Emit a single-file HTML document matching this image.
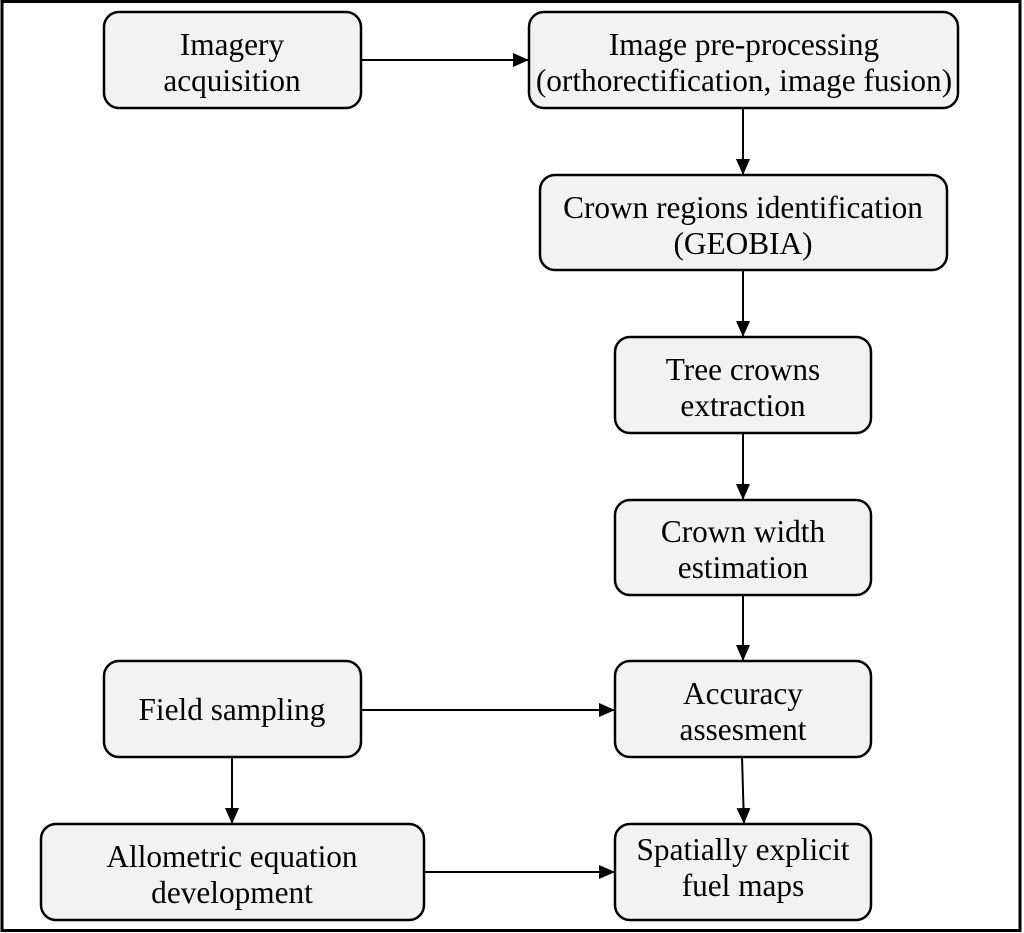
<!DOCTYPE html>
<html><head><style>
body{margin:0;background:#fff}
svg{display:block}
text{font-family:"Liberation Serif","Times New Roman",serif;font-size:31.3px;fill:#000;text-anchor:middle}
rect.b{fill:#f2f2f2;stroke:#000;stroke-width:2.5}
line{stroke:#000;stroke-width:2}
</style></head><body>
<svg width="1024" height="933" viewBox="0 0 1024 933">
<defs>
<marker id="h" viewBox="0 0 16 14" markerWidth="16" markerHeight="14" refX="16" refY="7" orient="auto" markerUnits="userSpaceOnUse"><path d="M0,0 L16,7 L0,14z"/></marker></defs>
<rect x="2" y="1.5" width="1018" height="929" fill="none" stroke="#000" stroke-width="3"/>
<rect class="b" x="104" y="12" width="257" height="96" rx="15"/>
<text x="232" y="55">Imagery</text><text x="232" y="91">acquisition</text>
<rect class="b" x="529" y="12" width="429" height="96" rx="15"/>
<text x="744" y="55">Image pre-processing</text><text x="744" y="91">(orthorectification, image fusion)</text>
<rect class="b" x="540" y="175" width="407" height="95" rx="15"/>
<text x="743" y="218">Crown regions identification</text><text x="743" y="254">(GEOBIA)</text>
<rect class="b" x="615" y="337" width="256" height="96" rx="15"/>
<text x="743" y="380">Tree crowns</text><text x="743" y="416">extraction</text>
<rect class="b" x="615" y="500" width="256" height="95" rx="15"/>
<text x="743" y="542">Crown width</text><text x="743" y="578">estimation</text>
<rect class="b" x="104" y="661" width="257" height="96" rx="15"/>
<text x="232" y="720">Field sampling</text>
<rect class="b" x="615" y="661" width="256" height="96" rx="15"/>
<text x="743" y="704">Accuracy</text><text x="743" y="740">assesment</text>
<rect class="b" x="41" y="824" width="383" height="96" rx="15"/>
<text x="232" y="867">Allometric equation</text><text x="232" y="903">development</text>
<rect class="b" x="615" y="824" width="256" height="96" rx="15"/>
<text x="743" y="860">Spatially explicit</text><text x="743" y="896">fuel maps</text>
<line x1="361" y1="60" x2="529" y2="60" marker-end="url(#h)"/>
<line x1="743" y1="108" x2="743" y2="175" marker-end="url(#h)"/>
<line x1="743" y1="270" x2="743" y2="337" marker-end="url(#h)"/>
<line x1="743" y1="433" x2="743" y2="500" marker-end="url(#h)"/>
<line x1="743" y1="595" x2="743" y2="661" marker-end="url(#h)"/>
<line x1="361" y1="710" x2="615" y2="710" marker-end="url(#h)"/>
<line x1="232" y1="757" x2="232" y2="824" marker-end="url(#h)"/>
<line x1="424" y1="872" x2="615" y2="872" marker-end="url(#h)"/>
<line x1="742" y1="757" x2="744" y2="824" marker-end="url(#h)"/>
</svg>
</body></html>
